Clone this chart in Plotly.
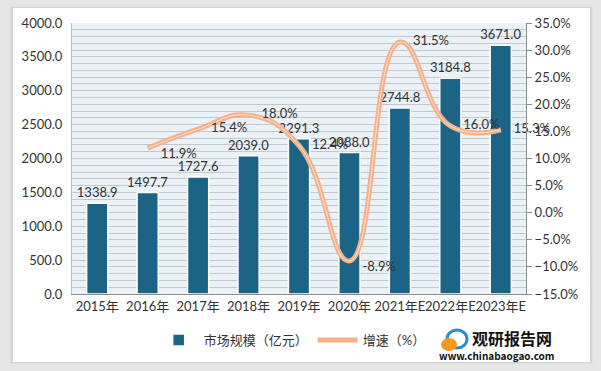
import plotly.graph_objects as go

categories = ["2015年", "2016年", "2017年", "2018年", "2019年", "2020年", "2021年E", "2022年E", "2023年E"]
market_size = [1338.9, 1497.7, 1727.6, 2039.0, 2291.3, 2088.0, 2744.8, 3184.8, 3671.0]
growth_cats = categories[1:]
growth = [11.9, 15.4, 18.0, 12.4, -8.9, 31.5, 16.0, 15.3]
growth_pos = ["bottom right", "middle right", "middle right", "middle right",
              "bottom right", "middle right", "middle right", "middle right"]

FONT = "Lato, Noto Sans CJK SC"
BAR = "#1c6486"
LINE = "#f5b28a"
TXT = "#333333"
PAD = "\u2002\u2002"

fig = go.Figure()
fig.add_trace(go.Bar(
    x=categories, y=market_size, name="市场规模（亿元）",
    marker=dict(color=BAR, line=dict(color="white", width=1.5)),
    width=0.42,
    text=[f"{v:.1f}" for v in market_size], textposition="outside",
    textangle=0, constraintext="none",
    textfont=dict(size=13, color=TXT, family=FONT), cliponaxis=False,
))
fig.add_trace(go.Scatter(
    x=growth_cats, y=growth, name="增速（%）", yaxis="y2",
    mode="lines+text", line=dict(color=LINE, width=5, shape="spline", smoothing=1.3),
    text=[f"{PAD}{v:.1f}%" for v in growth], textposition=growth_pos,
    textfont=dict(size=13, color=TXT, family=FONT), cliponaxis=False,
))
fig.add_trace(go.Scatter(
    x=growth_cats, y=growth, yaxis="y2", showlegend=False, hoverinfo="skip",
    mode="lines", line=dict(color="#fde0cc", width=1, shape="spline", smoothing=1.3),
))


def px(x):
    return (x - 72) / 454


def py(y):
    return (294 - y) / 271


shapes = [
    dict(type="rect", xref="paper", yref="paper", x0=-0.135, x1=1.146, y0=-0.256, y1=1.06,
         fillcolor="#d4d4d4", line=dict(width=0), layer="below"),
    dict(type="rect", xref="paper", yref="paper", x0=-0.130, x1=1.141, y0=-0.251, y1=1.055,
         fillcolor="white", line=dict(width=0), layer="below"),
    dict(type="rect", xref="paper", yref="paper", x0=0, x1=1, y0=0, y1=1,
         fillcolor="#eaf1f7", line=dict(width=0), layer="below"),
    # logo approximation
    dict(type="circle", xref="paper", yref="paper", x0=px(447), x1=px(467), y0=py(348), y1=py(330),
         fillcolor="rgba(0,0,0,0)", line=dict(color="#2b8cc4", width=3)),
    dict(type="circle", xref="paper", yref="paper", x0=px(441), x1=px(457), y0=py(351), y1=py(338),
         fillcolor="#f39a1e", line=dict(width=0)),
]

fig.update_layout(
    width=601, height=371,
    margin=dict(l=72, r=75, t=23, b=77, autoexpand=False),
    paper_bgcolor="#e6e6e6", plot_bgcolor="rgba(0,0,0,0)",
    font=dict(family=FONT, size=13, color=TXT),
    shapes=shapes,
    xaxis=dict(showline=True, linecolor="#8c8c8c", linewidth=1, automargin=False,
               tickangle=0, ticks="", tickfont=dict(size=13, color=TXT)),
    yaxis=dict(range=[0, 4000], dtick=500, tickformat=".1f", showgrid=True, automargin=False,
               gridcolor="#c4c8cc", gridwidth=1, zeroline=False,
               minor=dict(dtick=100, showgrid=True, gridcolor="#c4c8cc", gridwidth=1),
               showline=True, linecolor="#b8bcc0", ticks="", ticklabelstandoff=6,
               tickfont=dict(size=13, color=TXT)),
    yaxis2=dict(range=[-15, 35], dtick=5, tickformat=".1f", ticksuffix="%", automargin=False,
                overlaying="y", side="right", showgrid=False, zeroline=False,
                showline=True, linecolor="#8c8c8c", ticks="outside", ticklen=5,
                tickcolor="#8c8c8c", tickfont=dict(size=13, color=TXT)),
    legend=dict(orientation="h", x=0.485, xanchor="center", y=-0.115, yanchor="top",
                bgcolor="white", font=dict(size=13, color=TXT), itemwidth=40,
                traceorder="normal"),
    annotations=[
        dict(text="<b>观研报告网</b>", xref="paper", yref="paper", x=px(512), y=py(338),
             xanchor="center", yanchor="middle", showarrow=False,
             font=dict(size=16, color="#111111", family="Noto Sans CJK SC")),
        dict(text="<b>www.chinabaogao.com</b>", xref="paper", yref="paper", x=px(497), y=py(355),
             xanchor="center", yanchor="middle", showarrow=False,
             font=dict(size=10, color="#111111", family="Noto Sans CJK SC")),
    ],
)

fig.write_html("out.html", config={"displayModeBar": False},
               post_script="document.body.style.margin='0';")
